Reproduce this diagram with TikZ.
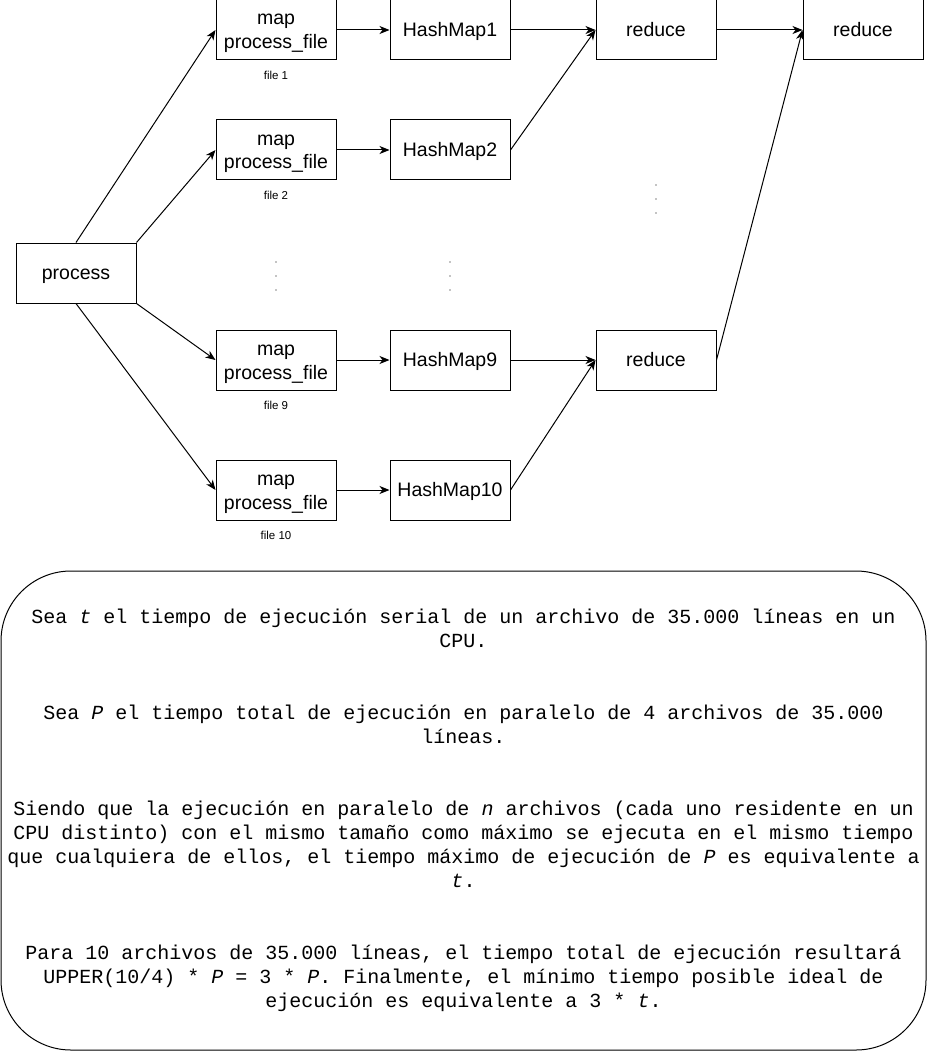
\documentclass[tikz,border=0pt]{standalone}
\usepackage{fontspec}
\setmainfont{Liberation Sans}
\setmonofont{Liberation Mono}
\usetikzlibrary{arrows.meta}
\begin{document}
\begin{tikzpicture}[x=1pt,y=-1pt,line width=1pt]
  % Styles
  \tikzstyle{block}=[draw,minimum width=120pt,minimum height=60pt,inner sep=0pt,align=center,text height=13pt,text depth=0pt,font=\fontsize{19.5}{24}\selectfont]
  \tikzstyle{mapblock}=[block,text height=38pt]
  \tikzstyle{caption}=[font=\fontsize{11.5}{13}\selectfont]
  \tikzstyle{note}=[align=center,inner sep=0pt,font=\ttfamily\fontsize{20}{24}\selectfont]
  \tikzstyle{vector}=[-{Stealth[length=10pt,width=8pt,inset=3pt]}]

  \useasboundingbox (0,0) rectangle (927,1051);

  % The graphic
  \node[block] (process) at (76,273) {process};

  \foreach \i/\y in {1/30, 2/150, 9/360, 10/490} {
    \node[mapblock] (map\i) at (276,\y) {map\\process\_file};
    \node[caption] (file\i) at (276,\y+45) {file \i};
    \node[block] (hash\i) at (450,\y) {HashMap\i};
    \draw[vector] (map\i) -- (hash\i);
  }

  \node[block] (reduce1) at (656,30) {reduce};
  \node[block] (reduce9) at (656,360) {reduce};
  \node[block] (reduce) at (863,30) {reduce};

  \draw[vector] (process.north) -- (map1.west);
  \draw[vector] (process.north east) -- (map2.west);
  \draw[vector] (process.south east) -- (map9.west);
  \draw[vector] (process.south) -- (map10.west);

  \draw[vector] (hash1) -- (reduce1);
  \draw[vector] (hash2.east) -- (reduce1.west);
  \draw[vector] (hash9) -- (reduce9);
  \draw[vector] (hash10.east) -- (reduce9.west);
  \draw[vector] (reduce1) -- (reduce);
  \draw[vector] (reduce9.east) -- (reduce.west);

  % dots
  \foreach \y in {262, 276, 290} {
    \fill (276,\y) circle (0.7pt);
    \fill (450,\y) circle (0.7pt);
  }
  \foreach \y in {185, 199, 213}
    \fill (656,\y) circle (0.7pt);

  % Note
  \draw[rounded corners=70pt] (1,571) rectangle (926,1050);
  \node[note] (text) at (463.5,810) {Sea \textit{t} el tiempo de ejecución serial de un archivo de 35.000 líneas en un\\CPU.\\[48pt]
    Sea \textit{P} el tiempo total de ejecución en paralelo de 4 archivos de 35.000\\líneas.\\[48pt]
    Siendo que la ejecución en paralelo de \textit{n} archivos (cada uno residente en un\\CPU distinto) con el mismo tamaño como máximo se ejecuta en el mismo tiempo\\que cualquiera de ellos, el tiempo máximo de ejecución de \textit{P} es equivalente a\\\textit{t}.\\[48pt]
    Para 10 archivos de 35.000 líneas, el tiempo total de ejecución resultará\\UPPER(10/4) * \textit{P} = 3 * \textit{P}. Finalmente, el mínimo tiempo posible ideal de\\ejecución es equivalente a 3 * \textit{t}.};
\end{tikzpicture}
\end{document}
